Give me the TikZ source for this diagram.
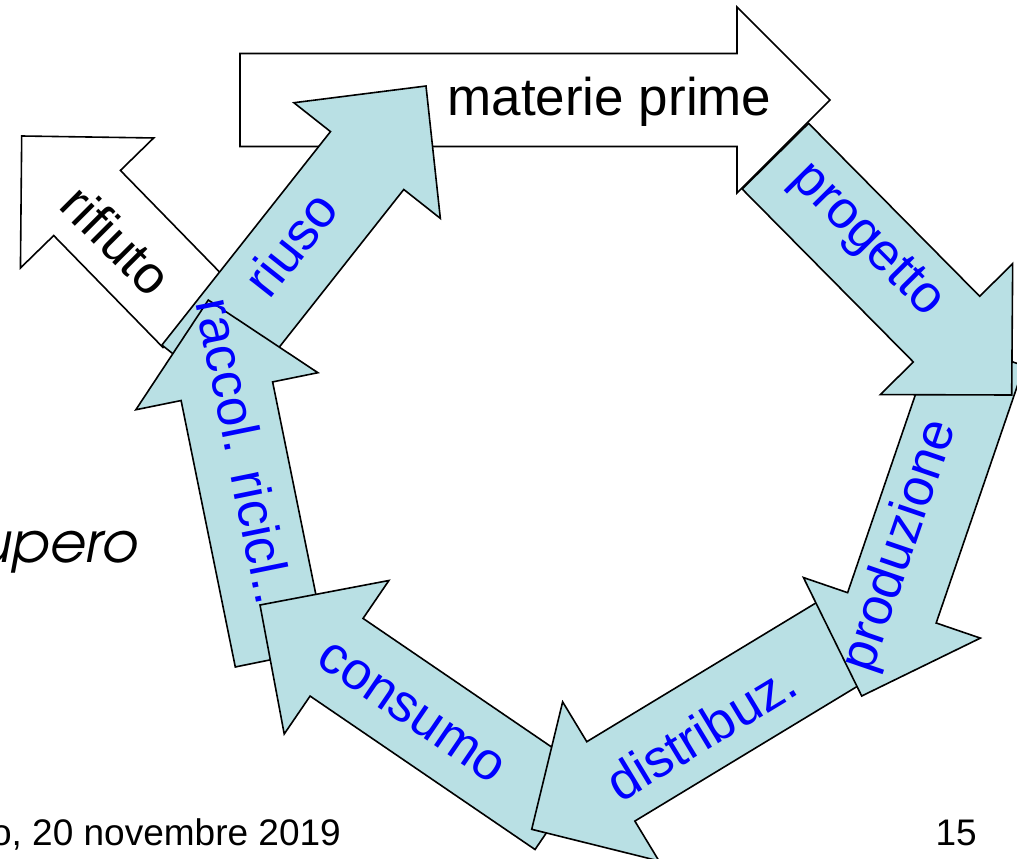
\documentclass[tikz,border=0pt]{standalone}
\usepackage{fontspec}
\setmainfont{Liberation Sans}
\newfontfamily\upfont{TeX Gyre Adventor}
\definecolor{arrowfill}{RGB}{185,224,228}
\definecolor{labelblue}{RGB}{0,0,255}
\newcommand{\blockarr}[8]{%
  \begin{scope}[shift={(#1,#2)},rotate=#3]
    \draw[#8] (0,0) -- (-#5,#6) -- (-#5,#7) -- (-#4,#7) -- (-#4,-#7) -- (-#5,-#7) -- (-#5,-#6) -- cycle;
  \end{scope}}
\begin{document}
\begin{tikzpicture}[x=1pt,y=-1pt,
  whitearrow/.style={draw=black,fill=white,line width=1.6pt,line join=miter},
  bluearrow/.style={draw=black,fill=arrowfill,line width=1.6pt,line join=miter},
  bluelabel/.style={inner sep=0pt,text=labelblue,font=\fontsize{53}{60}\selectfont},
  blacklabel/.style={inner sep=0pt,text=black,font=\fontsize{53}{60}\selectfont},
  footer/.style={inner sep=0pt,text=black,font=\fontsize{37}{44}\selectfont}]
\useasboundingbox (0,0) rectangle (1017,859);
\fill[white] (0,0) rectangle (1017,859);

% rifiuto
\blockarr{21.7}{136}{134.3}{250}{93.6}{93.1}{46.6}{whitearrow}
\node[blacklabel,rotate=-45] (rifiuto) at (116.7,240) {rifiuto};

% materie prime
\blockarr{830}{100}{0}{590}{93}{93}{46.5}{whitearrow}
\node[blacklabel,anchor=base] (materie) at (609.5,115) {materie prime};

% riuso
\blockarr{426}{86}{51.7}{367}{95}{93.3}{46.7}{bluearrow}
\node[bluelabel,rotate=51.7] (riuso) at (290.7,244) {riuso};

% raccol. ricicl.
\blockarr{208.3}{300}{101.5}{365}{93.1}{92.9}{46.7}{bluearrow}
\node[bluelabel,rotate=-78.5] (raccol) at (245,451) {raccol. ricicl..};

% consumo
\blockarr{260}{605}{145.7}{365}{92.7}{92.9}{47}{bluearrow}
\node[bluelabel,rotate=-34.3] (consumo) at (411,712.5) {consumo};

% distribuz.
\blockarr{531.7}{829.3}{211.2}{365}{92.5}{93}{46.4}{bluearrow}
\node[bluelabel,rotate=31.2] (distribuz) at (701,732) {distribuz.};

% produzione
\blockarr{861.7}{696}{251.1}{365}{93.2}{93.5}{46.8}{bluearrow}
\node[bluelabel,rotate=71.1] (produzione) at (901,546) {produzione};

% progetto
\blockarr{1011.7}{395}{-45.3}{336}{92.7}{93.1}{46.7}{bluearrow}
\node[bluelabel,rotate=-45.3] (progetto) at (866,241) {progetto};

% side and footer texts
\node[inner sep=0pt,anchor=base east,font=\upfont\itshape\fontsize{56}{62}\selectfont] (upero) at (138,562) {upero};
\node[footer,anchor=base east] (date) at (341,845) {o, 20 novembre 2019};
\node[footer,anchor=base east] (page) at (977,845) {15};
\end{tikzpicture}
\end{document}
